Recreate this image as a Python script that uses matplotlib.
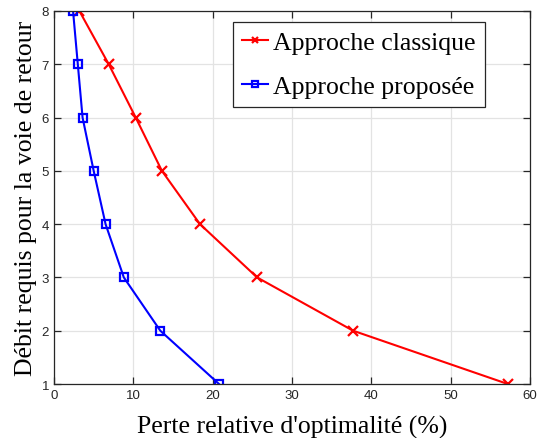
import matplotlib
matplotlib.use("Agg")
import matplotlib.pyplot as plt

# debit requis (y) vs perte relative (x, %)
debit = [8, 7, 6, 5, 4, 3, 2, 1]
perte_classique = [3.2, 6.9, 10.3, 13.6, 18.4, 25.6, 37.7, 57.2]
perte_proposee = [2.4, 3.0, 3.6, 5.0, 6.5, 8.8, 13.4, 20.8]

fig = plt.figure(figsize=(5.39, 4.39), dpi=100)
ax = fig.add_axes([0.1002, 0.123, 0.8831, 0.8497])

ax.plot(perte_classique, debit, color='red', marker='x', markersize=6.5,
        markeredgewidth=1.6, linewidth=1.5, label='Approche classique')
ax.plot(perte_proposee, debit, color='blue', marker='s', markersize=5.8,
        markerfacecolor='none', markeredgewidth=1.6, linewidth=1.5,
        label='Approche proposée')

ax.set_xlim(0, 60)
ax.set_ylim(1, 8)
ax.set_xticks(range(0, 61, 10))
ax.set_yticks(range(1, 9))
ax.grid(True, color='#e3e3e3', linewidth=0.9)
ax.set_axisbelow(True)

for s in ax.spines.values():
    s.set_color('#262626')
    s.set_linewidth(0.9)
ax.tick_params(direction='in', length=5, width=0.9, colors='#262626',
               labelsize=9.5, top=True, right=True)
for lab in ax.get_xticklabels() + ax.get_yticklabels():
    lab.set_fontfamily('Liberation Sans')

ax.set_xlabel("Perte relative d'optimalité (%)", family='Liberation Serif',
              fontsize=18.5, labelpad=10)
ax.set_ylabel("Débit requis pour la voie de retour", family='Liberation Serif',
              fontsize=18.5, labelpad=3)

leg = ax.legend(loc='upper right', bbox_to_anchor=(0.905, 0.97),
                prop={'family': 'Liberation Serif', 'size': 18.5},
                fancybox=False, framealpha=1, edgecolor='#262626',
                handlelength=1.0, handletextpad=0.2, borderpad=0.35,
                labelspacing=0.8, markerscale=0.75, borderaxespad=0)
leg.get_frame().set_linewidth(0.9)

fig.savefig('out.png', dpi=100)
